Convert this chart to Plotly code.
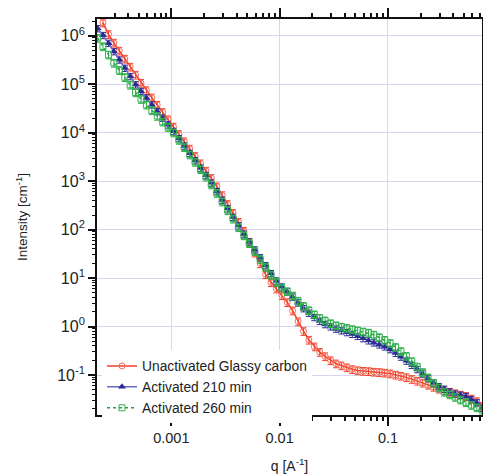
import plotly.graph_objects as go

# q values [A^-1]
Q = [2.09e-4, 2.34e-4, 2.63e-4, 2.95e-4, 3.31e-4, 3.72e-4, 4.17e-4, 4.68e-4, 5.25e-4, 5.89e-4,
     6.61e-4, 7.41e-4, 8.32e-4, 9.33e-4, 1.047e-3, 1.175e-3, 1.318e-3, 1.479e-3, 1.66e-3, 1.862e-3,
     2.089e-3, 2.344e-3, 2.63e-3, 2.951e-3, 3.311e-3, 3.715e-3, 4.169e-3, 4.677e-3, 5.248e-3, 5.888e-3,
     6.607e-3, 7.413e-3, 8.318e-3, 9.333e-3, 0.01047, 0.01175, 0.01318, 0.01479, 0.0166, 0.01862,
     0.02089, 0.02344, 0.0263, 0.02951, 0.03311, 0.03715, 0.04169, 0.04677, 0.05248, 0.05888,
     0.06607, 0.07413, 0.08318, 0.09333, 0.1047, 0.1175, 0.1318, 0.1479, 0.166, 0.1862,
     0.2089, 0.2344, 0.263, 0.2951, 0.3311, 0.3715, 0.4169, 0.4677, 0.5248, 0.5888,
     0.6607, 0.7413]

# Unactivated glassy carbon (starts at second q)
I_unact = [1.86e6, 1.07e6, 7.14e5, 4.89e5, 3.33e5, 2.28e5, 1.56e5, 1.06e5, 7.46e4,
           5.28e4, 3.74e4, 2.64e4, 1.87e4, 1.32e4, 9.33e3, 6.58e3, 4.65e3, 3.27e3, 2.31e3,
           1.63e3, 1.15e3, 776, 509, 334, 219, 144, 93.1, 55.7, 33.3,
           20.0, 11.9, 8.17, 6.03, 4.40, 3.16, 2.13, 1.27, 0.80, 0.53,
           0.386, 0.297, 0.242, 0.200, 0.172, 0.157, 0.143, 0.131, 0.124, 0.121,
           0.119, 0.116, 0.114, 0.111, 0.107, 0.101, 0.0957, 0.0893, 0.0822, 0.0757,
           0.0692, 0.0627, 0.0566, 0.0519, 0.0482, 0.0448, 0.0417, 0.0390, 0.0365, 0.0324,
           0.0286, 0.0229]

I_210 = [1.41e6, 1.02e6, 7.02e5, 4.73e5, 3.19e5, 2.15e5, 1.45e5, 9.8e4, 7.14e4, 5.20e4,
         3.78e4, 2.75e4, 2.01e4, 1.46e4, 1.07e4, 7.56e3, 5.33e3, 3.77e3, 2.66e3, 1.87e3,
         1.32e3, 922, 614, 409, 272, 181, 121, 81.6, 56.1, 38.5,
         26.5, 18.2, 12.5, 8.79, 6.61, 5.25, 4.09, 3.10, 2.36, 1.90,
         1.55, 1.30, 1.11, 0.997, 0.895, 0.824, 0.759, 0.698, 0.634, 0.570,
         0.513, 0.465, 0.423, 0.385, 0.338, 0.283, 0.237, 0.196, 0.160, 0.131,
         0.106, 0.0859, 0.0692, 0.0582, 0.0513, 0.0452, 0.0408, 0.0386, 0.0365, 0.0315,
         0.0269, 0.0209]

I_260 = [8.95e5, 6.01e5, 4.05e5, 2.74e5, 1.94e5, 1.39e5, 9.68e4, 6.74e4, 4.92e4, 3.76e4,
         2.88e4, 2.20e4, 1.68e4, 1.30e4, 1.0e4, 7.05e3, 4.98e3, 3.51e3, 2.48e3, 1.75e3,
         1.23e3, 849, 566, 377, 251, 167, 111, 75.7, 52.1, 35.8,
         24.6, 16.9, 11.6, 8.22, 6.31, 5.31, 4.34, 3.38, 2.64, 2.15,
         1.77, 1.50, 1.32, 1.16, 1.05, 0.986, 0.927, 0.873, 0.824, 0.782,
         0.741, 0.676, 0.597, 0.527, 0.453, 0.374, 0.308, 0.245, 0.191, 0.148,
         0.114, 0.0883, 0.0682, 0.0548, 0.0448, 0.0396, 0.0351, 0.0309, 0.0272, 0.0240,
         0.0214, 0.0191]

series_names = ["Unactivated Glassy carbon", "Activated 210 min", "Activated 260 min"]

y_tickvals = [1e-1, 1e0, 1e1, 1e2, 1e3, 1e4, 1e5, 1e6]
y_ticktext = ["10<sup>-1</sup>", "10<sup>0</sup>", "10<sup>1</sup>", "10<sup>2</sup>",
              "10<sup>3</sup>", "10<sup>4</sup>", "10<sup>5</sup>", "10<sup>6</sup>"]
x_tickvals = [0.001, 0.01, 0.1]
x_ticktext = ["0.001", "0.01", "0.1"]

# minor tick positions (2..9 within each decade)
x_minor = [m * 10.0 ** e for e in range(-4, 0) for m in range(2, 10)]
y_minor = [m * 10.0 ** e for e in range(-2, 7) for m in range(2, 10)]

X_RANGE = [-3.686, -0.132]
Y_RANGE = [-1.825, 6.345]

FONT = "Liberation Sans, Arial, Helvetica, sans-serif"

fig = go.Figure()

fig.add_trace(go.Scatter(
    x=Q[1:], y=I_unact, name=series_names[0], mode="lines+markers",
    line=dict(color="#f2402a", width=1.5),
    marker=dict(symbol="circle-open", size=6, color="#f56a55", line=dict(width=1)),
    error_y=dict(type="percent", value=18, color="#f2402a", thickness=1, width=3),
))
fig.add_trace(go.Scatter(
    x=Q, y=I_210, name=series_names[1], mode="lines+markers",
    line=dict(color="#6a6ac8", width=1.5),
    marker=dict(symbol="triangle-up", size=7, color="#2b2b96"),
    error_y=dict(type="percent", value=15, color="#2b2b96", thickness=1, width=3),
))
fig.add_trace(go.Scatter(
    x=Q, y=I_260, name=series_names[2], mode="lines+markers",
    line=dict(color="#1fa83a", width=1.5, dash="dot"),
    marker=dict(symbol="square-open", size=6, color="#35b050", line=dict(width=1)),
    error_y=dict(type="percent", value=18, color="#2aac45", thickness=1, width=3),
))
# empty trace that carries the overlay axes used for minor ticks
fig.add_trace(go.Scatter(x=[], y=[], xaxis="x2", yaxis="y2", showlegend=False,
                         hoverinfo="skip"))

fig.update_layout(
    width=483, height=476,
    margin=dict(l=97, r=1, t=19, b=61),
    paper_bgcolor="white", plot_bgcolor="white",
    font=dict(family=FONT, color="#222222"),
    showlegend=True,
    legend=dict(x=0.013, y=0.163, xanchor="left", yanchor="top",
                bgcolor="white", borderwidth=0,
                font=dict(family=FONT, size=13.8, color="#222222"),
                tracegroupgap=0, itemwidth=30),
    xaxis2=dict(type="log", range=X_RANGE, overlaying="x", anchor="y", side="bottom",
                tickmode="array", tickvals=x_minor, ticks="outside", ticklen=5,
                tickwidth=1.6, tickcolor="#111111", showticklabels=False,
                showgrid=False, zeroline=False, showline=False, mirror="ticks",
                automargin=False),
    yaxis2=dict(type="log", range=Y_RANGE, overlaying="y", anchor="x", side="left",
                tickmode="array", tickvals=y_minor, ticks="outside", ticklen=4,
                tickwidth=1.4, tickcolor="#111111", showticklabels=False,
                showgrid=False, zeroline=False, showline=False,
                automargin=False),
)

fig.update_layout(
    xaxis=dict(
        type="log", range=X_RANGE, automargin=False,
        tickmode="array", tickvals=x_tickvals, ticktext=x_ticktext,
        ticks="outside", ticklen=9, tickwidth=1.8, tickcolor="#111111",
        showline=True, linecolor="#111111", linewidth=1.8, mirror="ticks",
        showgrid=True, gridcolor="#d6d6f2", gridwidth=1,
        tickfont=dict(family=FONT, size=14.5),
        title=dict(text="q [A<sup>-1</sup>]", font=dict(family=FONT, size=14), standoff=16),
        zeroline=False,
    ),
    yaxis=dict(
        type="log", range=Y_RANGE, automargin=False,
        tickmode="array", tickvals=y_tickvals, ticktext=y_ticktext,
        ticks="outside", ticklen=7, tickwidth=1.8, tickcolor="#111111",
        showline=True, linecolor="#111111", linewidth=1.8, mirror=True,
        showgrid=True, gridcolor="#d6d6f2", gridwidth=1,
        tickfont=dict(family=FONT, size=16),
        title=dict(text="Intensity [cm<sup>-1</sup>]", font=dict(family=FONT, size=13.5), standoff=26),
        zeroline=False,
    ),
)

fig.write_html("out.html", config={"displayModeBar": False},
               post_script="document.body.style.margin='0px';")
